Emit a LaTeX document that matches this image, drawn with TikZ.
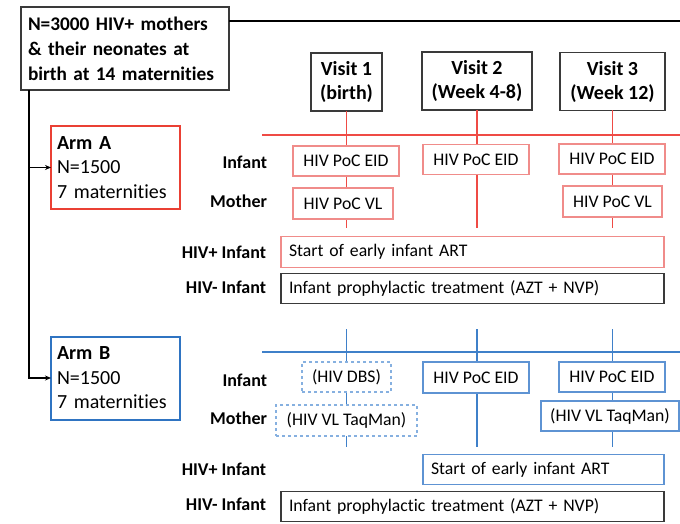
\documentclass[tikz,border=0pt]{standalone}
\usepackage{fontspec}
\setmainfont{Carlito}[Ligatures=NoCommon]
\usetikzlibrary{arrows.meta}
\definecolor{armred}{HTML}{EA4034}
\definecolor{linered}{HTML}{EF4B45}
\definecolor{boxred}{HTML}{F08C8A}
\definecolor{armblue}{HTML}{2F74C2}
\definecolor{lineblue}{HTML}{3F80C9}
\definecolor{boxblue}{HTML}{5E93D3}
\definecolor{dashblue}{HTML}{86B0E0}
\definecolor{boxgray}{HTML}{3A3A3A}
\tikzset{
  every node/.style={inner sep=0pt, outer sep=0pt},
  bigbox/.style={draw=boxgray, line width=1.3pt, fill=white, align=left, font=\bfseries\fontsize{19.3}{25}\selectfont},
  visitbox/.style={draw=boxgray, line width=1.2pt, fill=white, align=center, font=\bfseries\fontsize{20}{24}\selectfont},
  armbox/.style={line width=2pt, fill=white, align=left, font=\fontsize{20}{24.5}\selectfont},
  testbox/.style={line width=1.2pt, fill=white, align=center, font=\fontsize{17.7}{22}\selectfont, minimum height=30pt},
  widebox/.style={line width=1.2pt, fill=white, font=\fontsize{17.7}{22}\selectfont, minimum height=30.5pt, inner xsep=8pt, anchor=west},
  rowlabel/.style={anchor=east, font=\bfseries\fontsize{18}{22}\selectfont},
  blackline/.style={line width=1.7pt, black},
  redline/.style={line width=1.5pt, linered},
  blueline/.style={line width=1.5pt, lineblue}
}
\begin{document}
\begin{tikzpicture}[x=1pt,y=-1pt]
\useasboundingbox (0,0) rectangle (680,524);

% top box
\node[bigbox, minimum width=208pt, minimum height=83pt, text width=194pt, inner xsep=7pt] (top) at (125,48.5)
  {N=3000 HIV+ mothers\\ \& their neonates at\\ birth at 14 maternities};

% arms
\node[armbox, draw=armred, minimum width=129pt, minimum height=83pt, text width=117pt, inner xsep=6pt] (armA) at (115.5,167.5)
  {\textbf{Arm A}\\ N=1500\\ 7 maternities};
\node[armbox, draw=armblue, minimum width=129pt, minimum height=83pt, text width=117pt, inner xsep=6pt] (armB) at (115.5,378)
  {\textbf{Arm B}\\ N=1500\\ 7 maternities};

% visits
\node[visitbox, minimum width=71pt, minimum height=58pt] (v1) at (346.5,82) {Visit 1\\(birth)};
\node[visitbox, minimum width=110pt, minimum height=58pt] (v2) at (477,81) {Visit 2\\(Week 4-8)};
\node[visitbox, minimum width=105pt, minimum height=58pt] (v3) at (612.5,81.5) {Visit 3\\(Week 12)};

% coordinates
\coordinate (topend) at (680,21);
\coordinate (trunk) at (29,378);
\coordinate (redL) at (262,135);
\coordinate (redR) at (680,135);
\coordinate (blueL) at (262,352);
\coordinate (blueR) at (680,352);
\coordinate (r1) at (346.5,228);
\coordinate (r2) at (477,228);
\coordinate (r3) at (612.5,228);
\coordinate (b1t) at (346.5,329);
\coordinate (b2t) at (477,329);
\coordinate (b3t) at (612.5,329);
\coordinate (b1) at (346.5,447);
\coordinate (b2) at (477,447);
\coordinate (b3) at (612.5,447);

% black connectors
\draw[blackline] (top.north east |- topend) -- (topend);
\draw[blackline, -{Stealth[length=6pt,width=5pt]}] (top.south -| trunk) -- (trunk) -- (armB.west);
\draw[blackline, -{Stealth[length=6pt,width=5pt]}] (armA.west -| trunk) -- (armA.west);

% red lines
\draw[redline] (redL) -- (redR);
\draw[redline] (v1.south) -- (r1);
\draw[redline] (v2.south) -- (r2);
\draw[redline] (v3.south) -- (r3);

% blue lines
\draw[blueline] (blueL) -- (blueR);
\draw[blueline] (b1t) -- (b1);
\draw[blueline] (b2t) -- (b2);
\draw[blueline] (b3t) -- (b3);

% Arm A tests
\node[rowlabel] (lAinf) at (267,162) {Infant};
\node[rowlabel] (lAmot) at (267,201) {Mother};
\node[rowlabel] (lApos) at (266,252) {HIV+ Infant};
\node[rowlabel] (lAneg) at (266,287) {HIV- Infant};

\node[testbox, draw=boxred, minimum width=106pt] (a1i) at (346,161) {HIV PoC EID};
\node[testbox, draw=boxred, minimum width=100pt, minimum height=31pt] (a1m) at (343,203.5) {HIV PoC VL};
\node[testbox, draw=boxred, minimum width=106pt] (a2i) at (476,159.5) {HIV PoC EID};
\node[testbox, draw=boxred, minimum width=106pt] (a3i) at (612,159) {HIV PoC EID};
\node[testbox, draw=boxred, minimum width=99pt, minimum height=31pt] (a3m) at (612.5,201.5) {HIV PoC VL};
\node[widebox, draw=boxred, minimum width=383pt, text width=367pt] (apos) at (281,252) {Start of early infant ART};
\node[widebox, draw=boxgray, minimum width=383pt, text width=367pt] (aneg) at (281,288.5) {Infant prophylactic treatment (AZT + NVP)};

% Arm B tests
\node[rowlabel] (lBinf) at (267,380) {Infant};
\node[rowlabel] (lBmot) at (267,418) {Mother};
\node[rowlabel] (lBpos) at (266,469) {HIV+ Infant};
\node[rowlabel] (lBneg) at (266,504) {HIV- Infant};

\node[testbox, draw=dashblue, dashed, minimum width=89pt] (b1i) at (346.5,377) {(HIV DBS)};
\node[testbox, draw=dashblue, dashed, minimum width=141pt, minimum height=31pt] (b1m) at (346.5,420.5) {(HIV VL TaqMan)};
\node[testbox, draw=boxblue, minimum width=106pt, minimum height=31pt] (b2i) at (476,377.5) {HIV PoC EID};
\node[testbox, draw=boxblue, minimum width=106pt] (b3i) at (612,377) {HIV PoC EID};
\node[testbox, draw=boxblue, minimum width=138pt] (b3m) at (610,416) {(HIV VL TaqMan)};
\node[widebox, draw=boxblue, minimum width=241pt, text width=225pt] (bpos) at (423,469.5) {Start of early infant ART};
\node[widebox, draw=boxgray, minimum width=383pt, text width=367pt] (bneg) at (281,506.5) {Infant prophylactic treatment (AZT + NVP)};
\end{tikzpicture}
\end{document}
